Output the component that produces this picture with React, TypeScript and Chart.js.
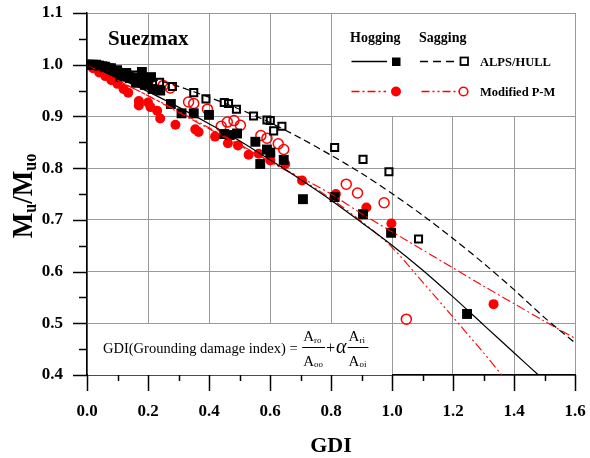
import React, { useEffect, useRef } from 'react';
import { Chart, registerables } from 'chart.js';

Chart.register(...registerables);

const FONT = '"Liberation Serif", "Times New Roman", serif';

// Axis ticks
const xTickValues = [0, 0.2, 0.4, 0.6, 0.8, 1.0, 1.2, 1.4, 1.6];
const yTickValues = [0.4, 0.5, 0.6, 0.7, 0.8, 0.9, 1.0, 1.1];

// ALPS/HULL hogging fit (solid black)
const alpsHogLineX = [0, 0.1, 0.2, 0.3, 0.4, 0.5, 0.6, 0.7, 0.8, 0.9, 1.0, 1.1, 1.2, 1.3, 1.4, 1.48];
const alpsHogLineY = [1.0, 0.975, 0.948, 0.918, 0.886, 0.853, 0.816, 0.778, 0.738, 0.695, 0.651, 0.603, 0.551, 0.497, 0.443, 0.40];

// ALPS/HULL sagging fit (dashed black)
const alpsSagLineX = [0, 0.1, 0.2, 0.3, 0.4, 0.5, 0.6, 0.7, 0.8, 0.9, 1.0, 1.1, 1.2, 1.3, 1.4, 1.5, 1.6];
const alpsSagLineY = [1.0, 0.989, 0.975, 0.958, 0.937, 0.914, 0.888, 0.858, 0.825, 0.79, 0.751, 0.709, 0.664, 0.616, 0.565, 0.511, 0.462];

// Modified P-M hogging fit (red dash-dot)
const pmHogLineX = [0, 0.1, 0.2, 0.3, 0.4, 0.5, 0.6, 0.7, 0.8, 0.9, 1.0, 1.1, 1.2, 1.3, 1.4, 1.5, 1.6];
const pmHogLineY = [1.0, 0.97, 0.94, 0.908, 0.876, 0.844, 0.812, 0.782, 0.75, 0.712, 0.677, 0.642, 0.607, 0.572, 0.538, 0.504, 0.471];

// Modified P-M sagging fit (red dash-dot-dot)
const pmSagLineX = [0, 0.1, 0.2, 0.3, 0.4, 0.5, 0.6, 0.7, 0.8, 0.9, 1.0, 1.1, 1.2, 1.3, 1.36];
const pmSagLineY = [1.0, 0.97, 0.94, 0.91, 0.878, 0.846, 0.813, 0.779, 0.741, 0.697, 0.647, 0.58, 0.512, 0.443, 0.40];

// ALPS/HULL hogging results (filled squares)
const alpsHogX = [0, 0.01, 0.02, 0.03, 0.04, 0.05, 0.06, 0.07, 0.08, 0.09, 0.10, 0.11, 0.12, 0.13, 0.14, 0.15, 0.16, 0.17, 0.18, 0.19, 0.20, 0.21, 0.215, 0.24, 0.275, 0.31, 0.35, 0.40, 0.45, 0.468, 0.492, 0.552, 0.568, 0.59, 0.601, 0.645, 0.708, 0.812, 0.905, 0.997, 1.246];
const alpsHogY = [1.0, 1.0, 1.0, 1.0, 0.998, 0.997, 0.995, 0.993, 0.99, 0.988, 0.985, 0.977, 0.983, 0.98, 0.974, 0.975, 0.965, 0.972, 0.986, 0.961, 0.97, 0.976, 0.953, 0.95, 0.924, 0.906, 0.906, 0.903, 0.866, 0.864, 0.867, 0.851, 0.808, 0.836, 0.83, 0.816, 0.74, 0.744, 0.711, 0.675, 0.518];

// ALPS/HULL sagging results (open squares)
const alpsSagX = [0, 0.02, 0.04, 0.06, 0.08, 0.10, 0.13, 0.16, 0.20, 0.238, 0.28, 0.35, 0.39, 0.45, 0.464, 0.49, 0.546, 0.59, 0.601, 0.612, 0.639, 0.812, 0.905, 0.99, 1.087];
const alpsSagY = [1.0, 1.0, 0.999, 0.997, 0.994, 0.99, 0.985, 0.98, 0.973, 0.966, 0.958, 0.946, 0.934, 0.927, 0.925, 0.914, 0.901, 0.893, 0.892, 0.872, 0.881, 0.84, 0.817, 0.793, 0.663];

// Modified P-M hogging results (filled circles)
const pmHogX = [0, 0.02, 0.04, 0.06, 0.08, 0.10, 0.12, 0.135, 0.17, 0.17, 0.20, 0.208, 0.23, 0.24, 0.29, 0.355, 0.366, 0.42, 0.462, 0.495, 0.53, 0.563, 0.601, 0.65, 0.705, 0.816, 0.916, 0.998, 1.333];
const pmHogY = [1.0, 0.993, 0.985, 0.978, 0.97, 0.963, 0.953, 0.946, 0.93, 0.921, 0.927, 0.918, 0.911, 0.896, 0.884, 0.875, 0.87, 0.861, 0.848, 0.844, 0.826, 0.828, 0.815, 0.808, 0.776, 0.75, 0.724, 0.693, 0.537];

// Modified P-M sagging results (open circles)
const pmSagX = [0, 0.05, 0.10, 0.15, 0.20, 0.25, 0.273, 0.333, 0.35, 0.395, 0.44, 0.46, 0.482, 0.503, 0.57, 0.59, 0.627, 0.645, 0.85, 0.887, 0.974, 1.047];
const pmSagY = [1.0, 0.993, 0.985, 0.975, 0.968, 0.96, 0.955, 0.928, 0.925, 0.914, 0.881, 0.889, 0.892, 0.883, 0.863, 0.858, 0.847, 0.836, 0.769, 0.752, 0.733, 0.508];

const pts = (xs: number[], ys: number[]) => xs.map((x, i) => ({ x, y: ys[i] }));

const lineDs = (xs: number[], ys: number[], color: string, dash: number[], width: number) => ({
  type: 'line' as const,
  data: pts(xs, ys),
  borderColor: color,
  borderWidth: width,
  borderDash: dash,
  pointRadius: 0,
  fill: false,
  tension: 0.3,
  order: 0,
});

const overlay = {
  id: 'overlay',
  beforeDatasetsDraw(chart: any) {
    const { ctx, scales } = chart;
    const xs = scales.x;
    const ys = scales.y;
    ctx.save();
    ctx.fillStyle = '#fff';
    // legend box (white panel over the grid)
    let x0 = Math.round(xs.getPixelForValue(0.8));
    let x1 = Math.round(xs.getPixelForValue(1.6));
    let y0 = Math.round(ys.getPixelForValue(1.1));
    let y1 = Math.round(ys.getPixelForValue(0.9));
    ctx.fillRect(x0 + 1, y0 + 1, x1 - x0 - 1, y1 - y0 - 1);
    // formula box
    x0 = Math.round(xs.getPixelForValue(0));
    x1 = Math.round(xs.getPixelForValue(1.0));
    y0 = Math.round(ys.getPixelForValue(0.5));
    y1 = Math.round(ys.getPixelForValue(0.4));
    ctx.fillRect(x0 + 1, y0 + 1, x1 - x0 - 1, y1 - y0 - 1);
    ctx.restore();
  },
  afterDraw(chart: any) {
    const { ctx, chartArea, scales } = chart;
    const xs = scales.x;
    const ys = scales.y;
    ctx.save();

    // outward tick marks
    ctx.strokeStyle = '#000';
    ctx.lineWidth = 1.5;
    ctx.setLineDash([]);
    for (let i = 0; i <= 14; i++) {
      const v = 0.4 + i * 0.05;
      const py = Math.round(ys.getPixelForValue(v)) + 0.5;
      const len = i % 2 === 0 ? 14 : 8;
      ctx.beginPath();
      ctx.moveTo(chartArea.left - len, py);
      ctx.lineTo(chartArea.left, py);
      ctx.stroke();
    }
    for (let i = 0; i <= 16; i++) {
      const v = i * 0.1;
      const px = Math.round(xs.getPixelForValue(v)) + 0.5;
      const len = i % 2 === 0 ? 16 : 6;
      ctx.beginPath();
      ctx.moveTo(px, chartArea.bottom);
      ctx.lineTo(px, chartArea.bottom + len);
      ctx.stroke();
    }

    ctx.fillStyle = '#000';
    ctx.textBaseline = 'alphabetic';
    ctx.textAlign = 'left';

    // Title inside plot
    ctx.font = `bold 21px ${FONT}`;
    ctx.fillText('Suezmax', 108, 45);

    // Legend
    ctx.font = `bold 14px ${FONT}`;
    ctx.fillText('Hogging', 350, 41.5);
    ctx.fillText('Sagging', 419, 41.5);

    const seg = (xa: number, xb: number, y: number, color: string, dash: number[], w: number) => {
      ctx.save();
      ctx.strokeStyle = color;
      ctx.lineWidth = w;
      ctx.setLineDash(dash);
      ctx.beginPath();
      ctx.moveTo(xa, y);
      ctx.lineTo(xb, y);
      ctx.stroke();
      ctx.restore();
    };
    // row 1
    seg(351.5, 387, 61.5, '#000', [], 1.3);
    ctx.fillStyle = '#000';
    ctx.fillRect(392, 57.5, 8.5, 8.5);
    seg(420, 456, 61.5, '#000', [8, 5], 1.3);
    ctx.strokeStyle = '#000';
    ctx.lineWidth = 1.8;
    ctx.strokeRect(460.5, 57.5, 7.5, 7.5);
    ctx.font = `bold 12.5px ${FONT}`;
    ctx.fillText('ALPS/HULL', 480, 65.5);
    // row 2
    seg(351.5, 386, 91.5, '#f00', [8, 3, 2, 3], 1.3);
    ctx.fillStyle = '#f00';
    ctx.beginPath();
    ctx.arc(396, 91.5, 5, 0, Math.PI * 2);
    ctx.fill();
    seg(421.5, 459, 91.5, '#f00', [8, 3, 2, 3, 2, 3], 1.3);
    ctx.strokeStyle = '#f00';
    ctx.lineWidth = 1.6;
    ctx.beginPath();
    ctx.arc(463.5, 91.5, 4.3, 0, Math.PI * 2);
    ctx.stroke();
    ctx.fillStyle = '#000';
    ctx.font = `bold 12.5px ${FONT}`;
    ctx.fillText('Modified P-M', 480, 96);

    // Formula
    ctx.font = `14.5px ${FONT}`;
    const lead = 'GDI(Grounding damage index) = ';
    ctx.fillText(lead, 103, 353);
    let fx = 103 + ctx.measureText(lead).width + 2;
    const frac = (x: number, num: string, den: string) => {
      ctx.font = `15px ${FONT}`;
      const aw = ctx.measureText('A').width;
      ctx.font = `9px ${FONT}`;
      const nw = ctx.measureText(num).width;
      const dw = ctx.measureText(den).width;
      const w = aw + Math.max(nw, dw) + 1;
      ctx.font = `15px ${FONT}`;
      ctx.fillText('A', x, 341);
      ctx.fillText('A', x, 365.5);
      ctx.font = `9px ${FONT}`;
      ctx.fillText(num, x + aw, 342.5);
      ctx.fillText(den, x + aw, 367);
      ctx.fillRect(x - 1, 347, w + 2, 1);
      return x + w;
    };
    fx = frac(fx, 'ro', 'oo');
    ctx.font = `16px ${FONT}`;
    ctx.fillText('+', fx + 2, 353);
    fx += 2 + ctx.measureText('+').width;
    ctx.font = `italic 20px ${FONT}`;
    ctx.fillText('\u03B1', fx + 1, 353);
    fx += 3 + ctx.measureText('\u03B1').width;
    frac(fx, 'ri', 'oi');

    // X axis title
    ctx.font = `bold 22px ${FONT}`;
    ctx.textAlign = 'center';
    ctx.fillText('GDI', (chartArea.left + chartArea.right) / 2, 452);

    // Y axis title M_u / M_uo
    ctx.save();
    ctx.translate(32, 196);
    ctx.rotate(-Math.PI / 2);
    ctx.scale(0.9, 1);
    ctx.textAlign = 'left';
    const parts: [string, number, number][] = [
      ['M', 30, 0],
      ['u', 18, 4],
      ['/M', 30, 0],
      ['uo', 18, 4],
    ];
    let total = 0;
    for (const [t, s] of parts) {
      ctx.font = `bold ${s}px ${FONT}`;
      total += ctx.measureText(t).width;
    }
    let tx = -total / 2;
    for (const [t, s, dy] of parts) {
      ctx.font = `bold ${s}px ${FONT}`;
      ctx.fillText(t, tx, dy);
      tx += ctx.measureText(t).width;
    }
    ctx.restore();

    ctx.restore();
  },
};

const noPad = (s: any) => {
  s.paddingLeft = 0;
  s.paddingRight = 0;
  s.paddingTop = 0;
  s.paddingBottom = 0;
};

export default function App() {
  const ref = useRef<HTMLCanvasElement>(null);
  useEffect(() => {
    const tickFont = { family: FONT, size: 17, weight: 'bold' as const };
    const chart = new Chart(ref.current!, {
      type: 'scatter',
      data: {
        datasets: [
          lineDs(alpsHogLineX, alpsHogLineY, '#000', [], 1.2),
          lineDs(alpsSagLineX, alpsSagLineY, '#000', [7, 4], 1.2),
          lineDs(pmHogLineX, pmHogLineY, '#f00', [9, 3, 2, 3], 1.1),
          lineDs(pmSagLineX, pmSagLineY, '#f00', [9, 3, 2, 3, 2, 3], 1.1),
          {
            type: 'scatter',
            data: pts(alpsHogX, alpsHogY),
            pointStyle: 'rect',
            pointRadius: 7,
            backgroundColor: '#000',
            borderColor: '#000',
            borderWidth: 0,
            order: 1,
          } as any,
          {
            type: 'scatter',
            data: pts(alpsSagX, alpsSagY),
            pointStyle: 'rect',
            pointRadius: 5,
            backgroundColor: 'rgba(0,0,0,0)',
            borderColor: '#000',
            borderWidth: 2,
            order: 2,
          } as any,
          {
            type: 'scatter',
            data: pts(pmHogX, pmHogY),
            pointStyle: 'circle',
            pointRadius: 5,
            backgroundColor: '#f00',
            borderColor: '#f00',
            borderWidth: 0,
            order: 3,
          } as any,
          {
            type: 'scatter',
            data: pts(pmSagX, pmSagY),
            pointStyle: 'circle',
            pointRadius: 5,
            backgroundColor: 'rgba(0,0,0,0)',
            borderColor: '#f00',
            borderWidth: 1.5,
            order: 4,
          } as any,
        ] as any,
      },
      options: {
        animation: false,
        responsive: false,
        layout: { padding: { top: 13, right: 15, left: 0, bottom: 0 } },
        plugins: { legend: { display: false }, tooltip: { enabled: false } },
        scales: {
          x: {
            type: 'linear',
            min: 0,
            max: 1.6,
            afterBuildTicks: (s: any) => {
              s.ticks = xTickValues.map((v) => ({ value: v }));
            },
            afterFit: (s: any) => {
              s.height = 83;
              noPad(s);
            },
            grid: { color: '#999', lineWidth: 1, drawTicks: false },
            border: { display: true, color: '#000', width: 1.5 },
            ticks: {
              padding: 26,
              font: tickFont,
              color: '#000',
              maxRotation: 0,
              autoSkip: false,
              callback: (v: any) => Number(v).toFixed(1),
            },
          },
          y: {
            type: 'linear',
            min: 0.4,
            max: 1.1,
            afterBuildTicks: (s: any) => {
              s.ticks = yTickValues.map((v) => ({ value: v }));
            },
            afterFit: (s: any) => {
              s.width = 87;
              noPad(s);
            },
            grid: { color: '#999', lineWidth: 1, drawTicks: false },
            border: { display: true, color: '#000', width: 1.5 },
            ticks: {
              padding: 24,
              font: tickFont,
              color: '#000',
              autoSkip: false,
              callback: (v: any) => Number(v).toFixed(1),
            },
          },
        },
      } as any,
      plugins: [overlay],
    });
    return () => chart.destroy();
  }, []);
  return (
    <div style={{ position: 'absolute', left: 0, top: 0, width: 590, height: 458, background: '#fff' }}>
      <canvas ref={ref} width={590} height={458} style={{ display: 'block', width: 590, height: 458 }} />
    </div>
  );
}
